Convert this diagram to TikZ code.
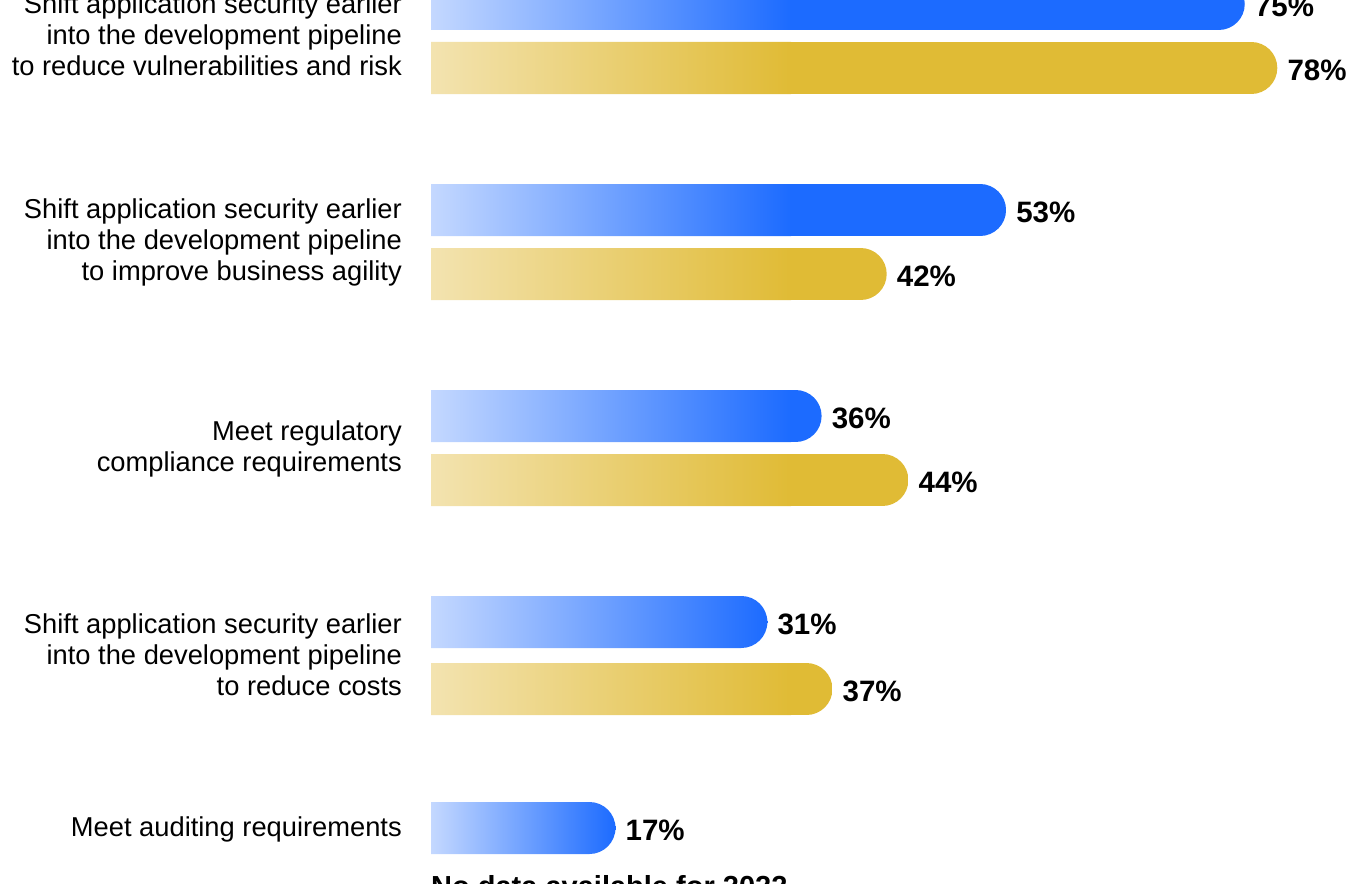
\documentclass[tikz,border=0pt]{standalone}
\usepackage{fontspec}
\setmainfont{Liberation Sans}
\usepackage{xcolor}

\definecolor{bluefull}{RGB}{28,107,255}
\definecolor{bluelight}{RGB}{196,216,255}
\definecolor{goldfull}{RGB}{224,187,53}
\definecolor{goldlight}{RGB}{243,227,176}

% one bar: name, y centre, percent, colour prefix
\newcommand{\chartbar}[4]{%
  \pgfmathsetmacro{\barend}{431+10.85*#3}
  \pgfmathsetmacro{\fadeend}{min(791,\barend)}
  \begin{scope}
    \clip (431,#2-26) -- (\barend-26,#2-26)
      arc[start angle=90,end angle=-90,radius=26pt] -- (431,#2+26) -- cycle;
    \shade[left color=#4light,right color=#4full] (431,#2-26) rectangle (\fadeend,#2+26);
    \fill[#4full] (\fadeend-0.5,#2-26) rectangle (\barend+1,#2+26);
  \end{scope}
  \coordinate (#1) at (\barend,#2);
  \node[pct] (#1pct) at ([xshift=10pt,yshift=-2pt]#1) {#3\%};
}

\begin{document}
\begin{tikzpicture}[x=1pt,y=-1pt,
    cat/.style={anchor=east,align=right,inner sep=0pt,font=\fontsize{27.3}{31}\selectfont},
    pct/.style={anchor=west,inner sep=0pt,font=\bfseries\fontsize{29.5}{31}\selectfont},
    note/.style={anchor=base west,inner sep=0pt,font=\bfseries\fontsize{29}{31}\selectfont}]
    \useasboundingbox (0,0) rectangle (1348,883);

    % reduce vulnerabilities
    \chartbar{riskA}{4}{75}{blue}
    \chartbar{riskB}{68}{78}{gold}
    \node[cat] (risk) at (402,35) {Shift application security earlier\\into the development pipeline\\to reduce vulnerabilities and risk};

    % business agility
    \chartbar{agileA}{210}{53}{blue}
    \chartbar{agileB}{274}{42}{gold}
    \node[cat] (agile) at (402,242) {Shift application security earlier\\into the development pipeline\\to improve business agility};

    % regulatory compliance
    \chartbar{regA}{416}{36}{blue}
    \chartbar{regB}{480}{44}{gold}
    \node[cat] (reg) at (402,449) {Meet regulatory\\compliance requirements};

    % reduce costs
    \chartbar{costA}{622}{31}{blue}
    \chartbar{costB}{689}{37}{gold}
    \node[cat] (cost) at (402,655) {Shift application security earlier\\into the development pipeline\\to reduce costs};

    % auditing
    \chartbar{auditA}{828}{17}{blue}
    \node[cat] (audit) at (402,829) {Meet auditing requirements};

    \node[note] (nodata) at (431,896) {No data available for 2022};
\end{tikzpicture}
\end{document}
